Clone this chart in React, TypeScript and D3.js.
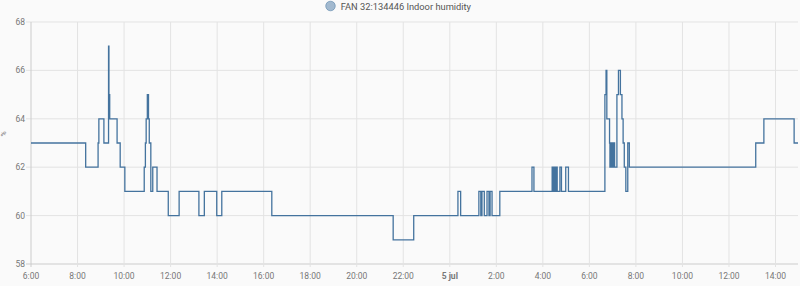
import React from "react";
import * as d3 from "d3";

const seriesName = "FAN 32:134446 Indoor humidity";
const yUnit = "%";
const yTicks = [58, 60, 62, 64, 66, 68];
const domainStart = "2024-07-04 06:00";
const domainEnd = "2024-07-05 14:58";

const times = [
  "2024-07-04 06:00", "2024-07-04 08:21", "2024-07-04 08:53", "2024-07-04 08:55",
  "2024-07-04 09:08", "2024-07-04 09:20", "2024-07-04 09:21", "2024-07-04 09:23",
  "2024-07-04 09:42", "2024-07-04 09:50", "2024-07-04 10:02", "2024-07-04 10:52",
  "2024-07-04 10:55", "2024-07-04 10:57", "2024-07-04 11:00", "2024-07-04 11:03",
  "2024-07-04 11:05", "2024-07-04 11:09", "2024-07-04 11:14", "2024-07-04 11:25",
  "2024-07-04 11:54", "2024-07-04 12:22", "2024-07-04 13:13", "2024-07-04 13:27",
  "2024-07-04 13:59", "2024-07-04 14:12", "2024-07-04 16:21", "2024-07-04 21:34",
  "2024-07-04 22:27", "2024-07-05 00:21", "2024-07-05 00:28", "2024-07-05 01:15",
  "2024-07-05 01:20", "2024-07-05 01:23", "2024-07-05 01:29", "2024-07-05 01:36",
  "2024-07-05 01:41", "2024-07-05 01:44", "2024-07-05 01:49", "2024-07-05 02:09",
  "2024-07-05 03:32", "2024-07-05 03:37", "2024-07-05 04:24", "2024-07-05 04:25",
  "2024-07-05 04:26", "2024-07-05 04:27", "2024-07-05 04:28", "2024-07-05 04:29",
  "2024-07-05 04:30", "2024-07-05 04:31", "2024-07-05 04:32", "2024-07-05 04:33",
  "2024-07-05 04:34", "2024-07-05 04:35", "2024-07-05 04:36", "2024-07-05 04:37",
  "2024-07-05 04:44", "2024-07-05 04:48", "2024-07-05 04:59", "2024-07-05 05:06",
  "2024-07-05 06:40", "2024-07-05 06:43", "2024-07-05 06:45", "2024-07-05 06:52",
  "2024-07-05 06:53", "2024-07-05 06:54", "2024-07-05 06:56", "2024-07-05 06:57",
  "2024-07-05 06:59", "2024-07-05 07:00", "2024-07-05 07:02", "2024-07-05 07:03",
  "2024-07-05 07:05", "2024-07-05 07:11", "2024-07-05 07:15", "2024-07-05 07:20",
  "2024-07-05 07:24", "2024-07-05 07:27", "2024-07-05 07:30", "2024-07-05 07:34",
  "2024-07-05 07:39", "2024-07-05 07:43", "2024-07-05 13:09", "2024-07-05 13:30",
  "2024-07-05 14:48", "2024-07-05 14:58",
];

const values = [
  63, 62, 63, 64,
  63, 67, 65, 64,
  63, 62, 61, 62,
  63, 64, 65, 64,
  63, 61, 62, 61,
  60, 61, 60, 61,
  60, 61, 60, 59,
  60, 61, 60, 61,
  60, 61, 60, 61,
  60, 61, 60, 61,
  62, 61, 62, 61,
  62, 61, 62, 61,
  62, 61, 62, 61,
  62, 61, 62, 61,
  62, 61, 62, 61,
  65, 66, 64, 63,
  62, 63, 62, 63,
  62, 63, 62, 63,
  62, 65, 66, 65,
  64, 63, 62, 61,
  63, 62, 63, 64,
  63, 63,
];

const W = 800;
const H = 286;
const M = { left: 31, right: 798, top: 22, bottom: 264 };
const lineColor = "#44739e";
const font = "Roboto, 'Noto Sans', sans-serif";

export default function App() {
  const parse = d3.timeParse("%Y-%m-%d %H:%M");
  const data = times.map((t, i) => ({ t: parse(t) as Date, v: values[i] }));
  const x = d3
    .scaleTime()
    .domain([parse(domainStart) as Date, parse(domainEnd) as Date])
    .range([M.left, M.right]);
  const y = d3.scaleLinear().domain([58, 68]).range([M.bottom, M.top]);
  const xTicks = x.ticks(d3.timeHour.every(2) as any);
  const line = d3
    .line<{ t: Date; v: number }>()
    .x((d) => x(d.t))
    .y((d) => y(d.v))
    .curve(d3.curveStepAfter);
  const fmt = (d: Date) =>
    d.getHours() === 0 && d.getMinutes() === 0
      ? `${d.getDate()} jul`
      : `${d.getHours()}:${d3.format("02")(d.getMinutes())}`;

  return (
    <svg
      width={W}
      height={H}
      style={{ position: "absolute", left: 0, top: 0, background: "#fafafa" }}
      fontFamily={font}
    >
      <rect x={0} y={0} width={W} height={H} fill="#fafafa" />
      {/* legend */}
      <circle cx={330.5} cy={6} r={4.8} fill="#a2b9cf" stroke="#44739e" strokeWidth={0.8} strokeOpacity={0.6} />
      <text x={340.7} y={9.5} fontSize={9.3} fill="#555">
        {seriesName}
      </text>
      {/* horizontal grid */}
      {yTicks.map((t) => (
        <g key={"y" + t}>
          <line x1={M.left - 5} x2={M.right} y1={y(t)} y2={y(t)} stroke={t === 58 ? "#ccc" : "#e3e3e3"} strokeWidth={1} />
          <text x={M.left - 6} y={y(t)} dy="0.35em" textAnchor="end" fontSize={8.5} fill="#777">
            {t}
          </text>
        </g>
      ))}
      {/* vertical grid */}
      {xTicks.map((t, i) => (
        <g key={"x" + i}>
          <line
            x1={x(t)}
            x2={x(t)}
            y1={M.top}
            y2={M.bottom + 3}
            stroke={i === 0 ? "#ccc" : "#e3e3e3"}
            strokeWidth={1}
          />
          <text
            x={x(t)}
            y={M.bottom + 14.5}
            textAnchor="middle"
            fontSize={8.5}
            fill="#777"
            fontWeight={t.getHours() === 0 ? "bold" : "normal"}
          >
            {fmt(t)}
          </text>
        </g>
      ))}
      <text
        transform={`translate(6,134) rotate(-90)`}
        textAnchor="middle"
        fontSize={7}
        fill="#777"
      >
        {yUnit}
      </text>
      <path d={line(data) || ""} fill="none" stroke={lineColor} strokeWidth={1.3} />
    </svg>
  );
}
